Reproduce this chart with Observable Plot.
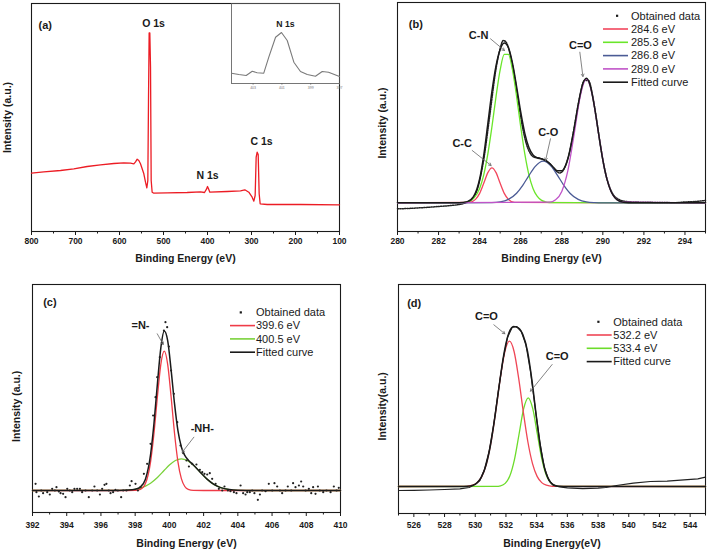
<!DOCTYPE html>
<html><head><meta charset="utf-8">
<script src="https://cdn.jsdelivr.net/npm/d3@7"></script>
<script src="https://cdn.jsdelivr.net/npm/@observablehq/plot@0.6"></script>
<style>
body{margin:0;background:#fff;}
#wrap{position:relative;width:709px;height:551px;overflow:hidden;background:#fff;}
#wrap > svg{position:absolute;overflow:visible;}
</style></head><body><div id="wrap"></div>
<script>
// ---------- Panel (a): survey ----------
const surveyEnergy = [800, 772, 734, 703.8, 673.5, 643.2, 612.9, 590.2, 575, 567.4, 563.6, 559.8, 556.1, 552.3, 548.5, 544.7, 540.9, 537.9, 535.6, 534.1, 532.6, 531.1, 529.5, 528, 525.8, 522, 491.7, 446.2, 415.9, 406.8, 402.3, 400, 397.7, 394.7, 355.3, 325, 315.2, 306.1, 298.5, 294.7, 291.7, 289.4, 287.1, 284.8, 282.6, 280.3, 264.4, 188.6, 100];
const surveyIntensity = [58.3, 59.7, 61, 62.7, 65, 66.7, 68, 68.7, 68.3, 67.7, 69.7, 72.3, 71, 67.7, 62.7, 57.7, 49.3, 43.7, 51, 131, 198.7, 198.7, 164.3, 51, 39.3, 38.3, 38.7, 39, 39.7, 39, 42.3, 45, 42.7, 39.3, 40, 40.7, 41.7, 39.3, 34.3, 30.3, 36, 74.3, 79.3, 77, 37.7, 27.7, 27, 27, 26.7];
const surveyLabels = ["O 1s", "N 1s", "C 1s"];
const surveyLabelEnergy = [522.7, 400, 277.3];
const surveyLabelHeight = [208, 56, 90];
const surveyTicks = [800, 700, 600, 500, 400, 300, 200, 100];
const surveyMinor = [750, 650, 550, 450, 350, 250, 150];

const insetEnergy = [404.5, 403.99, 403.48, 403.06, 402.72, 402.26, 401.91, 401.44, 401.03, 400.63, 400.17, 399.71, 399.24, 398.67, 398.2, 397.76, 397.0];
const insetCounts = [10.3, 9, 8, 12.3, 10.7, 10.3, 26.3, 46.3, 51, 43, 21.3, 12, 9, 7.3, 12, 11.3, 7];
const insetTicks = [403, 401, 399, 397];

// ---------- Panel (b): C 1s ----------
const c1sTicks = [280, 282, 284, 286, 288, 290, 292, 294];
const c1sMinor = [281, 283, 285, 287, 289, 291, 293, 295];
const c1sDataE = [280, 280.5, 281, 281.5, 282, 282.5, 283, 283.3, 283.6, 283.9, 284.2, 284.5, 284.8, 285.0, 285.15, 285.3, 285.5, 285.7, 285.9, 286.1, 286.3, 286.5, 286.7, 286.9, 287.1, 287.3, 287.5, 287.7, 287.9, 288.1, 288.3, 288.5, 288.7, 288.9, 289.1, 289.3, 289.5, 289.7, 289.9, 290.1, 290.3, 290.5, 290.7, 291.0, 291.5, 292.0, 292.5, 293.0, 293.5, 294.0, 294.5, 295.0];
const c1sDataI = [22.7, 23.0, 23.6, 24.2, 25.0, 25.8, 27.0, 28.5, 31.5, 43, 72, 117, 163, 183, 191, 189, 176, 155, 128, 103, 86, 77, 74, 73.5, 72, 70, 66, 61, 58.5, 62, 73, 92, 115, 137, 151, 151, 136, 111, 84, 61, 46, 37, 33, 30.5, 29.5, 29.3, 29.1, 29.0, 28.8, 29.5, 30.0, 31.0];
const c1sFitE = [280, 282.5, 283.0, 283.4, 283.7, 284.0, 284.2, 284.4, 284.6, 284.8, 285.0, 285.2, 285.4, 285.6, 285.8, 286.0, 286.2, 286.4, 286.6, 286.8, 287.0, 287.2, 287.4, 287.6, 287.8, 288.0, 288.2, 288.4, 288.6, 288.8, 289.0, 289.2, 289.4, 289.6, 289.8, 290.0, 290.2, 290.4, 290.6, 290.8, 291.0, 291.5, 295];
const c1sFitI = [28.7, 28.7, 28.8, 29.9, 34.8, 52.5, 76.2, 107.9, 140.1, 165.8, 182.0, 188.4, 184.0, 168.4, 145.0, 119.5, 98.2, 83.9, 76.6, 73.8, 72.7, 71.1, 68.1, 64.0, 60.7, 60.7, 67.0, 81.2, 102.8, 127.0, 146.2, 153.2, 144.8, 123.8, 97.0, 71.6, 52.4, 40.1, 33.5, 30.5, 29.3, 28.7, 28.7];
const ccE = [280, 283.5, 283.8, 284.0, 284.2, 284.4, 284.6, 284.8, 285.0, 285.2, 285.4, 285.7, 295];
const ccI = [28.7, 29.1, 32.1, 38.1, 48.2, 58.9, 63.7, 58.9, 48.2, 38.1, 32.1, 29.1, 28.7];
const cnE = [280, 283.0, 283.4, 283.7, 284.0, 284.2, 284.4, 284.6, 284.8, 285.0, 285.2, 285.4, 285.6, 285.8, 286.0, 286.2, 286.4, 286.6, 286.8, 287.0, 287.2, 287.4, 287.6, 295];
const cnI = [28.7, 28.8, 29.7, 33.0, 43.1, 56.7, 77.6, 104.9, 135.2, 161.6, 177.2, 177.2, 161.6, 135.2, 104.9, 77.6, 56.7, 43.1, 35.3, 31.4, 29.7, 29.0, 28.8, 28.7];
const coE = [280, 284.6, 285.0, 285.4, 285.8, 286.1, 286.4, 286.7, 287.1, 287.5, 287.8, 288.1, 288.4, 288.8, 289.2, 289.6, 290.0, 295];
const coI = [28.7, 28.9, 29.6, 32.1, 38.3, 46.2, 55.9, 64.9, 70.3, 64.9, 55.9, 46.2, 38.3, 32.1, 29.6, 28.9, 28.7, 28.7];
const cdoE = [280, 287.4, 287.7, 288.0, 288.3, 288.6, 288.9, 289.2, 289.5, 289.8, 290.1, 290.4, 290.7, 291.0, 295];
const cdoI = [28.7, 29.3, 31.7, 40.1, 61.1, 96.9, 135.2, 152.3, 135.2, 96.9, 61.1, 40.1, 31.7, 29.3, 28.7];
const c1sLegend = ["Obtained data", "284.6 eV", "285.3 eV", "286.8 eV", "289.0 eV", "Fitted curve"];
const c1sNotes = [
  {label: "C-N", x: 283.95, y: 196, x1: 284.53, y1: 192.7, x2: 285.21, y2: 181},
  {label: "C-C", x: 283.15, y: 87.7, x1: 283.64, y1: 81, x2: 284.56, y2: 66},
  {label: "C-O", x: 287.34, y: 99.3, x1: 287.45, y1: 92.7, x2: 287.21, y2: 71},
  {label: "C=O", x: 288.91, y: 186, x1: 288.88, y1: 179.3, x2: 289.03, y2: 155}
];

// ---------- Panel (c): N 1s ----------
const n1sTicks = [392, 394, 396, 398, 400, 402, 404, 406, 408, 410];
const n1sMinor = [393, 395, 397, 399, 401, 403, 405, 407, 409];
const n1sDotE = [392.18, 392.23, 392.37, 392.51, 392.62, 392.86, 393.01, 393.15, 393.31, 393.40, 393.54, 393.64, 393.79, 393.93, 394.03, 394.18, 394.32, 394.45, 394.61, 394.77, 394.90, 395.10, 395.29, 395.49, 395.62, 395.78, 395.94, 396.07, 396.21, 396.32, 396.46, 396.56, 396.71, 396.85, 396.99, 397.18, 397.30, 397.49, 397.69, 397.79, 398.02, 398.16, 398.31, 398.51, 398.70, 398.90, 399.05, 399.19, 399.29, 399.44, 399.58, 399.68, 399.77, 399.87, 399.97, 400.10, 400.26, 400.46, 400.65, 400.81, 401.00, 401.14, 401.33, 401.58, 401.78, 401.92, 402.05, 402.21, 402.36, 402.50, 402.70, 402.89, 403.09, 403.22, 403.42, 403.57, 403.77, 403.92, 404.16, 404.31, 404.45, 404.55, 404.70, 404.84, 404.97, 405.17, 405.29, 405.42, 405.62, 405.81, 406.01, 406.14, 406.30, 406.46, 406.59, 406.79, 406.92, 407.12, 407.23, 407.37, 407.57, 407.70, 407.82, 407.96, 408.15, 408.29, 408.40, 408.54, 408.68, 408.79, 408.99, 409.18, 409.42, 409.61, 409.77, 409.90];
const n1sDotI = [28.7, 20.3, 16, 22, 19.3, 20.3, 18, 23.7, 22, 25.3, 21, 19.3, 18.7, 15.3, 23.7, 22, 20.3, 23.7, 23.7, 23.7, 20.3, 22, 15.3, 22, 26, 22, 18, 23.7, 27.7, 28.7, 22, 19.3, 20.3, 22.7, 22, 15.3, 22, 22, 27, 31.3, 28.7, 22, 25.3, 38.7, 48.7, 68.7, 97, 115.3, 135.3, 155.3, 169.3, 182, 190.3, 185.3, 166, 142, 118.7, 90.3, 67, 59.3, 52, 46, 48.7, 48, 42.7, 40.3, 38.7, 38, 39.3, 33.7, 28.7, 23.7, 22, 26, 22, 21.3, 20.3, 19.3, 27, 19.3, 18, 20.3, 20.3, 22, 19.3, 12.7, 18, 22, 21.3, 28.7, 22, 29.3, 26, 22, 19.3, 22, 26, 22, 29.3, 25.3, 27, 31, 26, 22, 23.7, 19.3, 25.3, 18.7, 26, 22, 20.3, 22, 20.3, 26, 22, 24.7];
const n1sFitE = [392, 397.0, 397.6, 398.0, 398.3, 398.6, 398.9, 399.1, 399.3, 399.5, 399.7, 399.9, 400.1, 400.3, 400.5, 400.7, 400.9, 401.1, 401.4, 401.8, 402.2, 402.6, 403.0, 403.5, 404.0, 405.0, 410];
const n1sFitI = [22, 22.1, 22.4, 23.3, 25.4, 33.3, 58.0, 89.2, 128.8, 164.7, 181.5, 171.9, 142.7, 108.8, 81.8, 65.5, 57.1, 52.6, 47.5, 40.3, 33.4, 28.2, 24.9, 22.9, 22.2, 22, 22];
const imineE = [392, 397.5, 398.0, 398.3, 398.6, 398.9, 399.1, 399.3, 399.5, 399.7, 399.9, 400.1, 400.3, 400.5, 400.7, 400.9, 401.1, 401.4, 402, 410];
const imineI = [22, 22, 22.1, 23.1, 29.0, 50.7, 79.3, 115.8, 148.2, 161.3, 148.2, 115.8, 79.3, 50.7, 33.8, 26.0, 23.1, 22.1, 22, 22];
const amineE = [392, 397.0, 397.6, 398.0, 398.3, 398.6, 398.9, 399.3, 399.7, 400.0, 400.35, 400.7, 401.05, 401.4, 401.75, 402.1, 402.45, 402.8, 403.15, 403.5, 403.85, 404.2, 405, 410];
const amineI = [22, 22.1, 22.4, 23.2, 24.3, 26.3, 29.3, 35.0, 42.2, 47.4, 52.0, 53.7, 52.0, 47.4, 41.2, 35.0, 29.9, 26.3, 24.1, 22.9, 22.35, 22.1, 22, 22];
const n1sLegend = ["Obtained data", "399.6 eV", "400.5 eV", "Fitted curve"];
const n1sNotes = [
  {label: "=N-", x: 398.31, y: 187, x1: 399.29, y1: 178.7, x2: 399.64, y2: 168},
  {label: "-NH-", x: 401.92, y: 84.3, x1: 401.43, y1: 75.3, x2: 400.75, y2: 60.3}
];

// ---------- Panel (d): O 1s ----------
const o1sTicks = [526, 528, 530, 532, 534, 536, 538, 540, 542, 544];
const o1sMinor = [525, 527, 529, 531, 533, 535, 537, 539, 541, 543, 545];
const o1sDataE = [525, 526, 527, 528, 529, 529.6, 530.0, 530.3, 530.6, 530.9, 531.2, 531.5, 531.8, 532.1, 532.4, 532.7, 533.0, 533.3, 533.6, 533.9, 534.2, 534.5, 534.8, 535.1, 535.5, 536, 537, 538, 538.5, 539.2, 540.3, 541.4, 542.5, 543.6, 544.5, 545];
const o1sDataI = [23, 23.2, 23.5, 24, 24.6, 26, 29, 33, 44, 62, 89, 122, 153, 176, 186, 187, 182, 169, 142, 106, 72, 46, 33, 28, 26.5, 25.7, 24.8, 25.3, 26.0, 28, 30.3, 32, 32.3, 33.7, 34.7, 36.3];
const o1sFitE = [525, 529.0, 529.5, 529.8, 530.1, 530.4, 530.7, 531.0, 531.3, 531.6, 531.9, 532.2, 532.5, 532.8, 533.1, 533.4, 533.7, 534.0, 534.3, 534.6, 534.9, 535.2, 535.5, 536.0, 545];
const o1sFitI = [27, 27.0, 27.3, 28.1, 30.5, 36.3, 48.2, 68.9, 98.5, 132.5, 162.3, 180.9, 187.1, 185.6, 178.9, 162.6, 132.4, 94.7, 61.6, 40.8, 31.3, 28.0, 27.2, 27.0, 27];
const o1aE = [525, 529.43, 529.83, 530.13, 530.43, 530.73, 531.03, 531.33, 531.63, 531.93, 532.23, 532.53, 532.83, 533.13, 533.43, 533.73, 534.03, 534.33, 534.63, 535.03, 545];
const o1aI = [27, 27.2, 28.3, 30.9, 37.1, 49.9, 71.5, 101.7, 135.1, 162.0, 172.3, 162.0, 135.1, 101.7, 71.5, 49.9, 37.1, 30.9, 28.3, 27.2, 27];
const o1bE = [525, 531.35, 531.65, 531.95, 532.25, 532.55, 532.85, 533.15, 533.45, 533.75, 534.05, 534.35, 534.65, 534.95, 535.25, 535.55, 545];
const o1bI = [27, 27.1, 27.7, 30.1, 37.4, 53.6, 79.0, 104.6, 115.7, 104.6, 79.0, 53.6, 37.4, 30.1, 27.7, 27.1, 27];
const o1sLegend = ["Obtained data", "532.2 eV", "533.4 eV", "Fitted curve"];
const o1sNotes = [
  {label: "C=O", x: 530.73, y: 197, x1: 531.21, y1: 188.7, x2: 531.93, y2: 179.7},
  {label: "C=O", x: 535.34, y: 157, x1: 535.01, y1: 149, x2: 533.6, y2: 122.3}
];

// ---------- helpers ----------
const FONT = "'Liberation Sans', Arial, Helvetica, sans-serif";
const INK = "#1a1a1a";
const rows = (xs, ys) => xs.map((x, i) => ({x, y: ys[i]}));

function axes(major, minor, pad) {
  return [
    Plot.axisX({ticks: minor, tickSize: 2.5, tickFormat: () => "", label: null, stroke: INK}),
    Plot.axisX({ticks: major, tickSize: 4, tickPadding: pad, label: null, stroke: INK, fill: INK,
      fontSize: 8.5, fontWeight: "bold", tickFormat: d => String(d)})
  ];
}
function titles(xTitle, xdy, yTitle, ydx, ydy, tag, tdx, tdy) {
  return [
    Plot.text([xTitle], {text: d => d, frameAnchor: "bottom", dy: xdy, lineAnchor: "middle", textAnchor: "middle",
      fontWeight: "bold", fontSize: 10.5, fill: INK}),
    Plot.text([yTitle], {text: d => d, frameAnchor: "left", rotate: -90, dx: ydx, dy: ydy, lineAnchor: "middle",
      textAnchor: "middle", fontWeight: "bold", fontSize: 10.5, fill: INK}),
    Plot.text([tag], {text: d => d, frameAnchor: "top-left", dx: tdx, dy: tdy, lineAnchor: "middle",
      textAnchor: "start", fontWeight: "bold", fontSize: 11, fill: INK})
  ];
}
function notes(list) {
  return [
    Plot.arrow(list, {x1: "x1", y1: "y1", x2: "x2", y2: "y2", stroke: "#666", strokeWidth: 0.8, headLength: 5, bend: 0}),
    Plot.text(list, {x: "x", y: "y", text: "label", fontWeight: "bold", fontSize: 11, fill: INK})
  ];
}
function legend(svg, labels, colors, o) {
  const g = d3.select(svg).append("g").attr("font-family", FONT).attr("font-size", 11)
    .attr("fill", INK).attr("text-anchor", "start");
  labels.forEach((lab, i) => {
    const y = o.y0 + i * 13.3;
    if (colors[i] === null) {
      g.append("rect").attr("x", o.dot - 1).attr("y", y - 1).attr("width", 2.2).attr("height", 2.2).attr("fill", INK);
    } else {
      g.append("line").attr("x1", o.l0).attr("x2", o.l1).attr("y1", y).attr("y2", y)
        .attr("stroke", colors[i]).attr("stroke-width", 1.6);
    }
    g.append("text").attr("x", o.tx).attr("y", y).attr("dy", "0.35em").attr("text-anchor", "start").text(lab);
  });
}
function place(svg, left, top) {
  svg.style.left = left + "px";
  svg.style.top = top + "px";
  document.getElementById("wrap").appendChild(svg);
}
const style = {fontFamily: FONT, fontSize: "10px", color: INK, background: "transparent", overflow: "visible"};

// ---------- (a) ----------
const svgA = Plot.plot({
  width: 354, height: 270, marginLeft: 31, marginRight: 15, marginTop: 3, marginBottom: 39,
  x: {domain: [800, 100]}, y: {domain: [0, 228], axis: null}, style,
  marks: [
    Plot.frame({stroke: INK, strokeWidth: 1.1}),
    ...axes(surveyTicks, surveyMinor, 2),
    Plot.line(rows(surveyEnergy, surveyIntensity), {x: "x", y: "y", stroke: "#ec1c24", strokeWidth: 1.3}),
    Plot.text(surveyLabels.map((l, i) => ({l, x: surveyLabelEnergy[i], y: surveyLabelHeight[i]})),
      {x: "x", y: "y", text: "l", fontWeight: "bold", fontSize: 10.5, fill: INK}),
    ...titles("Binding Energy (eV)", 27, "Intensity (a.u.)", -23.5, 0, "(a)", 7, 22)
  ]
});
place(svgA, 0, 0);

const svgInset = Plot.plot({
  width: 116, height: 92, marginLeft: 2, marginRight: 6, marginTop: 2, marginBottom: 10,
  x: {domain: [404.5, 397]}, y: {domain: [0, 80], axis: null}, style,
  marks: [
    Plot.frame({stroke: "#555", strokeWidth: 0.8}),
    Plot.axisX({ticks: insetTicks, tickSize: 1.5, tickPadding: 1, label: null, stroke: "#666", fill: "#777",
      fontSize: 3.5, tickFormat: d => String(d)}),
    Plot.line(rows(insetEnergy, insetCounts), {x: "x", y: "y", stroke: "#7a7a7a", strokeWidth: 1.1}),
    Plot.text([{t: "N 1s", x: 400.75, y: 59}], {x: "x", y: "y", text: "t", fontWeight: "bold", fontSize: 8.7, fill: INK})
  ]
});
place(svgInset, 229, 1);

// ---------- (b) ----------
const bColors = [null, "#f2465c", "#6ae62a", "#4b5b95", "#c054c8", INK];
const svgB = Plot.plot({
  width: 355, height: 270, marginLeft: 43, marginRight: 4, marginTop: 2, marginBottom: 39,
  x: {domain: [280, 295]}, y: {domain: [0, 229], axis: null}, style,
  marks: [
    Plot.frame({stroke: INK, strokeWidth: 1.1}),
    ...axes(c1sTicks, c1sMinor, 2),
    Plot.line(rows(c1sDataE, c1sDataI), {x: "x", y: "y", stroke: "#222", strokeWidth: 1.5, strokeDasharray: "1.2,1.2", curve: "monotone-x"}),
    Plot.line(rows(ccE, ccI), {x: "x", y: "y", stroke: bColors[1], strokeWidth: 1.3, curve: "monotone-x"}),
    Plot.line(rows(cnE, cnI), {x: "x", y: "y", stroke: bColors[2], strokeWidth: 1.3, curve: "monotone-x"}),
    Plot.line(rows(coE, coI), {x: "x", y: "y", stroke: bColors[3], strokeWidth: 1.3, curve: "monotone-x"}),
    Plot.line(rows(cdoE, cdoI), {x: "x", y: "y", stroke: bColors[4], strokeWidth: 1.3, curve: "monotone-x"}),
    Plot.line(rows(c1sFitE, c1sFitI), {x: "x", y: "y", stroke: INK, strokeWidth: 1.5, curve: "monotone-x"}),
    ...notes(c1sNotes),
    ...titles("Binding Energy (eV)", 27, "Intensity (a.u.)", -14.7, 6, "(b)", 11.3, 22)
  ]
});
legend(svgB, c1sLegend, bColors, {dot: 263, l0: 249, l1: 274, tx: 277, y0: 15.7});
place(svgB, 354, 0);

// ---------- (c) ----------
const cColors = [null, "#ef3b47", "#7ad23a", INK];
const svgC = Plot.plot({
  width: 354, height: 281, marginLeft: 32, marginRight: 14, marginTop: 14, marginBottom: 39,
  x: {domain: [392, 410]}, y: {domain: [0, 228], axis: null}, style,
  marks: [
    Plot.frame({stroke: INK, strokeWidth: 1.1}),
    ...axes(n1sTicks, n1sMinor, 5.5),
    Plot.line(rows(amineE, amineI), {x: "x", y: "y", stroke: cColors[2], strokeWidth: 1.3, curve: "monotone-x"}),
    Plot.line(rows(imineE, imineI), {x: "x", y: "y", stroke: cColors[1], strokeWidth: 1.3, curve: "monotone-x"}),
    Plot.line(rows(n1sFitE, n1sFitI), {x: "x", y: "y", stroke: INK, strokeWidth: 1.5, curve: "monotone-x"}),
    Plot.dot(rows(n1sDotE, n1sDotI), {x: "x", y: "y", r: 1.1, fill: "#222", stroke: null}),
    ...notes(n1sNotes),
    ...titles("Binding Energy (eV)", 31.3, "Intensity (a.u.)", -15.6, 7.8, "(c)", 10.7, 18.3)
  ]
});
legend(svgC, n1sLegend, cColors, {dot: 240.7, l0: 230, l1: 255, tx: 256, y0: 42.3});
place(svgC, 0, 270);

// ---------- (d) ----------
const dColors = [null, "#ef4656", "#6cdc2a", INK];
const svgD = Plot.plot({
  width: 355, height: 281, marginLeft: 44, marginRight: 4, marginTop: 14, marginBottom: 38,
  x: {domain: [525, 545]}, y: {domain: [0, 229], axis: null}, style,
  marks: [
    Plot.frame({stroke: INK, strokeWidth: 1.1}),
    ...axes(o1sTicks, o1sMinor, 4.3),
    Plot.line(rows(o1bE, o1bI), {x: "x", y: "y", stroke: dColors[2], strokeWidth: 1.3, curve: "monotone-x"}),
    Plot.line(rows(o1aE, o1aI), {x: "x", y: "y", stroke: dColors[1], strokeWidth: 1.3, curve: "monotone-x"}),
    Plot.line(rows(o1sDataE, o1sDataI), {x: "x", y: "y", stroke: "#222", strokeWidth: 1.2, curve: "linear"}),
    Plot.line(rows(o1sFitE, o1sFitI), {x: "x", y: "y", stroke: INK, strokeWidth: 1.5, curve: "monotone-x"}),
    ...notes(o1sNotes),
    ...titles("Binding Energy(eV)", 29.7, "Intensity(a.u.)", -15.7, 7.3, "(d)", 8.7, 19.3)
  ]
});
legend(svgD, o1sLegend, dColors, {dot: 244.3, l0: 232.7, l1: 257.7, tx: 259.3, y0: 51.7});
place(svgD, 354, 270);
</script>
</body></html>
